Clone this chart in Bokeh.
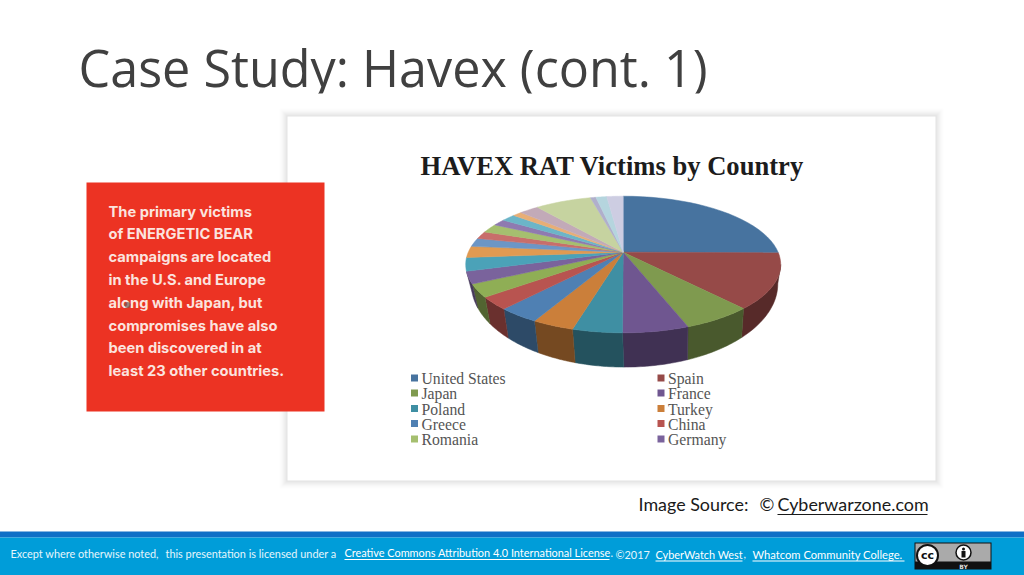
from bokeh.plotting import figure
from bokeh.embed import file_html
from bokeh.resources import INLINE
from bokeh.models import Range1d
from bokeh.core.properties import value
import numpy as np

# ---- chart data (share of the pie, in apparent degrees) ----
legend_left = ["United States", "Japan", "Poland", "Greece", "Romania"]
legend_right = ["Spain", "France", "Turkey", "China", "Germany"]
slice_values = [80, 50, 25.5, 24.5, 18.5, 15.5, 15, 12, 12, 11, 11.5, 9.5, 7, 6, 7, 5, 5.5, 3.5, 7.5, 21, 2, 4, 6]
slice_colors = ["#47739f", "#964a48", "#7f9a4f", "#6f5690", "#3f8fa3", "#cb7f3a",
                "#4f80b3", "#b85450", "#8fae55", "#7a639c", "#4ba2b8", "#e09a52",
                "#6c96c6", "#c86e6b", "#a5bf6f", "#8f7ab0", "#6cb5c8", "#e8ae76",
                "#c2aab8", "#c6d3a0", "#b0afcb", "#b5d5de", "#cdcde2"]
legend_left_colors = ["#47739f", "#7f9a4f", "#3f8fa3", "#4f80b3", "#a5bf6f"]
legend_right_colors = ["#964a48", "#6f5690", "#cb7f3a", "#b85450", "#7a639c"]
red_lines = ["The primary victims", "of ENERGETIC BEAR", "campaigns are located", "in the U.S. and Europe",
             "along with Japan, but", "compromises have also", "been discovered in at", "least 23 other countries."]

p = figure(width=1025, height=575, output_backend="svg", toolbar_location=None,
           x_range=Range1d(-1, 1024), y_range=Range1d(575, 0), margin=(0, 0, 0, -1),
           min_border=0, outline_line_color=None, background_fill_color="white", border_fill_color="white")
p.axis.visible = False
p.grid.visible = False

BASE = 0.40  # how far the renderer's baseline sits below the anchor, per px of font size

def T(x, y, s, size, color, font, style="normal", align="left"):
    p.text([x], [y - BASE * size], text=[s], text_font_size=f"{size}px", text_color=color, text_font=value(font),
           text_font_style=style, text_align=align, text_baseline="alphabetic")

# title
T(78, 87, "Case Study: Havex (cont. 1)", 50.3, "#404040", "Open Sans")
p.quad(left=[60], right=[740], top=[93], bottom=[110], fill_color="white", line_color=None)

# chart panel with soft shadow
for g, a in ((8, .006), (7, .008), (6, .01), (5, .012), (4, .014), (3, .016), (2, .018), (1, .02)):
    p.quad(left=[287 - g], right=[935 + g], top=[116 - g], bottom=[480 + g], fill_color="#000000", fill_alpha=a, line_color=None)
p.quad(left=[287], right=[935], top=[116], bottom=[480], fill_color="white", line_color=None)

T(420, 176, "HAVEX RAT Victims by Country", 26.6, "#1c1c1c", "Liberation Serif", "bold")

# pie geometry in page pixels
TOP = dict(cx=622.7, cy=264, rx=157.5, ry=68.3)
BOT = dict(cx=624, cy=283.3, rx=153.3, ry=83.3)
APEX = (622.7, 251.7)

def arc(g, a0, a1, n=24):
    t = np.radians(np.linspace(a0, a1, n))
    return g["cx"] + g["rx"] * np.sin(t), g["cy"] - g["ry"] * np.cos(t)

def darker(c, f=0.58):
    r, gg, b = (int(c[i:i + 2], 16) for i in (1, 3, 5))
    return "#%02x%02x%02x" % (int(r * f), int(gg * f), int(b * f))

edges = np.concatenate([[0], np.cumsum(slice_values)])
total = edges[-1]
angles = edges / total * 360

# side wall
for a0, a1, c in zip(angles[:-1], angles[1:], slice_colors):
    lo, hi = max(a0, 90), min(a1, 264)
    if lo < hi:
        x1, y1 = arc(TOP, lo, hi)
        x2, y2 = arc(BOT, hi, lo)
        p.patch(np.concatenate([x1, x2]), np.concatenate([y1, y2]), fill_color=darker(c), line_color=darker(c), line_width=0.5)

# top face
for a0, a1, c in zip(angles[:-1], angles[1:], slice_colors):
    x, y = arc(TOP, a0, a1)
    p.patch(np.concatenate([[APEX[0]], x]), np.concatenate([[APEX[1]], y]), fill_color=c, line_color=c, line_width=0.5)

# legend
ys = [379, 394, 409.5, 424.5, 440]
for names, cols, xm, xt in ((legend_left, legend_left_colors, 414, 421), (legend_right, legend_right_colors, 660.5, 667.5)):
    for n, c, y in zip(names, cols, ys):
        p.quad(left=[xm - 3.5], right=[xm + 3.5], top=[y - 5], bottom=[y + 2], fill_color=c, line_color=None)
        T(xt, y + 5.5, n, 15.7, "#555555", "Liberation Serif")

# red box
p.quad(left=[86], right=[324], top=[182], bottom=[411], fill_color="#ec3323", line_color=None)
for i, s in enumerate(red_lines):
    T(108, 217 + i * 22.8, s, 14.7, "#fbe3df", "Inter", "bold")
p.scatter([127], [304.5], size=6, fill_color="#6b5a58", fill_alpha=0.7, line_color=None)

# image source
T(638, 511, "Image Source:", 17.9, "#1a1a1a", "Lato")
T(759, 511, "©", 17.9, "#1a1a1a", "Lato")
T(777, 511, "Cyberwarzone.com", 17.9, "#1a1a1a", "Lato")
p.segment([777], [514], [927], [514], line_color="#1a1a1a", line_width=1.2)

# footer
p.quad(left=[-1], right=[1024], top=[531], bottom=[537], fill_color="#0f6fc6", line_color=None)
p.quad(left=[-1], right=[1024], top=[537], bottom=[575], fill_color="#009dd9", line_color=None)
T(10, 557, "Except where otherwise noted,", 10.9, "#e6f6fc", "Lato")
T(165, 557, "this presentation is licensed under a", 10.9, "#e6f6fc", "Lato")
T(344, 556.5, "Creative Commons Attribution 4.0 International License", 10.9, "#ffffff", "Lato")
T(610, 557, ".", 10.9, "#e6f6fc", "Lato")
T(615, 558, "©2017", 10.9, "#e6f6fc", "Lato")
T(655, 558, "CyberWatch West", 10.9, "#ffffff", "Lato")
T(743, 558, ",", 10.9, "#e6f6fc", "Lato")
T(752, 558, "Whatcom Community College.", 11.2, "#ffffff", "Lato")
p.segment([344, 655, 752], [559, 560.5, 560.5], [609, 742, 904], [559, 560.5, 560.5], line_color="#ffffff", line_width=1)

# CC BY badge
p.quad(left=[914], right=[991], top=[542], bottom=[569], fill_color="#111111", line_color=None)
p.quad(left=[915], right=[990], top=[543], bottom=[561], fill_color="#aaaaaa", line_color=None)
p.scatter([927], [555], size=21, fill_color="white", line_color="#111111", line_width=2)
T(927, 559, "cc", 11, "#111111", "DejaVu Sans", "bold", "center")
p.scatter([963], [552], size=15, fill_color="white", line_color="#111111", line_width=1.5)
p.scatter([963], [548.5], size=3, fill_color="#111111", line_color=None)
p.quad(left=[961], right=[965], top=[550.5], bottom=[557], fill_color="#111111", line_color=None)
T(963, 568, "BY", 6, "#dddddd", "DejaVu Sans", "bold", "center")

open("out.html", "w").write(file_html(p, INLINE))
